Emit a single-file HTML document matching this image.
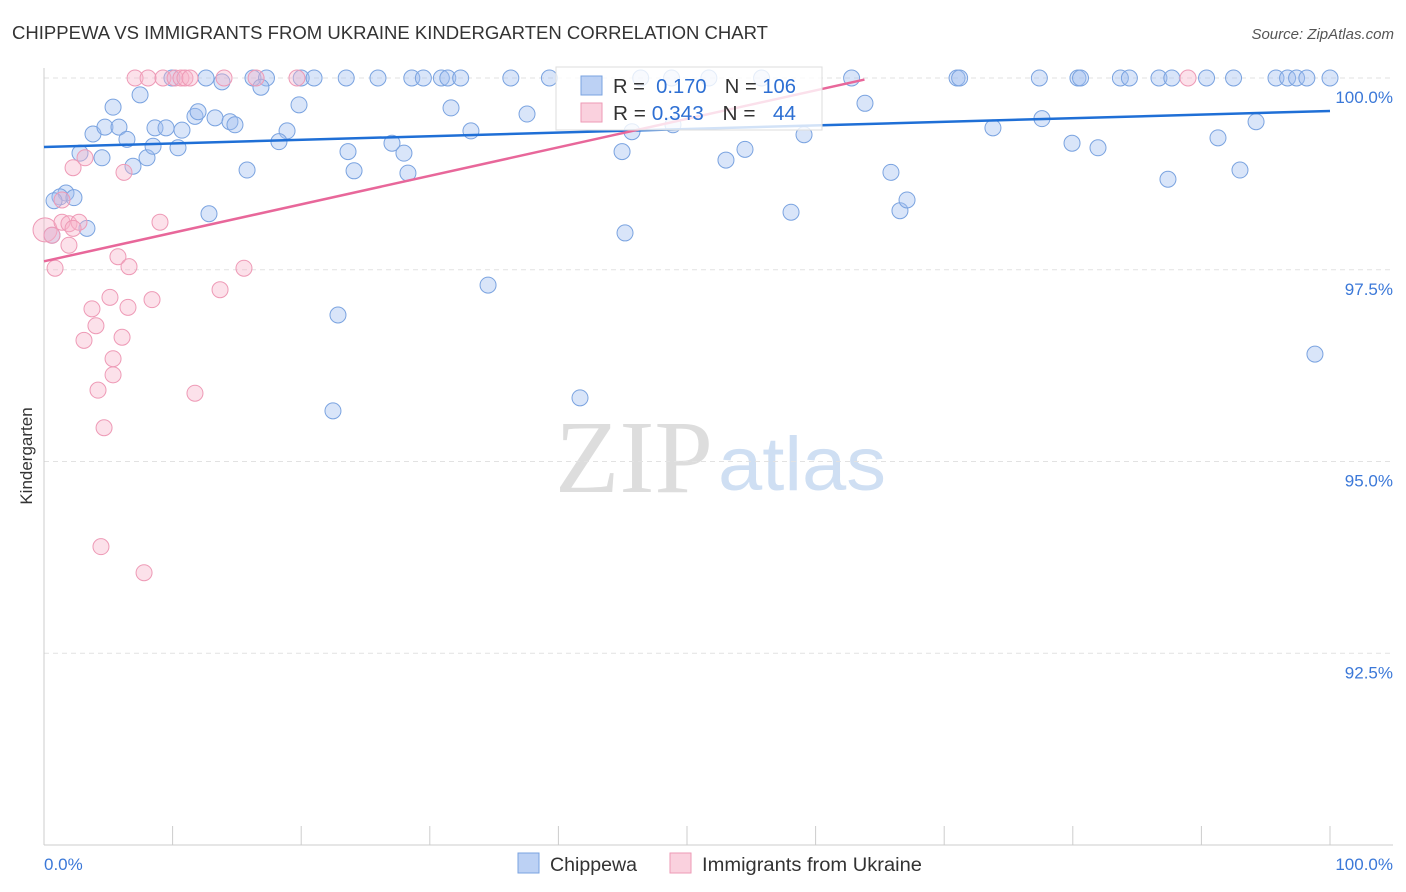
<!DOCTYPE html>
<html><head><meta charset="utf-8"><style>
body{margin:0;background:#fff;font-family:"Liberation Sans",sans-serif;}
#wrap{position:relative;width:1406px;height:892px;overflow:hidden;}
</style></head><body>
<div id="wrap">
<svg id="chart" width="1406" height="892">
<text x="12" y="39" font-size="18" fill="#333" textLength="756" lengthAdjust="spacingAndGlyphs">CHIPPEWA VS IMMIGRANTS FROM UKRAINE KINDERGARTEN CORRELATION CHART</text>
<text x="1394" y="39" font-size="15" fill="#555" text-anchor="end" font-style="italic">Source: ZipAtlas.com</text>
<text x="32" y="456" font-size="17" fill="#333" text-anchor="middle" transform="rotate(-90 32 456)">Kindergarten</text>
<g>
<text x="634" y="492" font-size="104" font-family="Liberation Serif,serif" fill="#ddd" text-anchor="middle" textLength="158" lengthAdjust="spacingAndGlyphs">ZIP</text>
<text x="802" y="490" font-size="76" fill="#cfdff3" text-anchor="middle" textLength="168" lengthAdjust="spacingAndGlyphs">atlas</text>
</g>
<g id="grid"></g><g id="axes"></g><g id="pts"></g><g id="lines"></g>
<g>
<rect x="556" y="67" width="266" height="63" fill="rgba(255,255,255,0.8)" stroke="#ddd"/>
<rect x="581" y="76" width="21" height="19" fill="rgba(160,190,240,0.7)" stroke="#7aa3e0"/>
<rect x="581" y="103" width="21" height="19" fill="rgba(248,190,208,0.7)" stroke="#ee9ab6"/>
<text x="613" y="93" font-size="20" fill="#333" textLength="183" lengthAdjust="spacingAndGlyphs">R = <tspan fill="#2d6fd3">&#160;0.170</tspan><tspan dx="18">N = </tspan><tspan fill="#2d6fd3">106</tspan></text>
<text x="613" y="120" font-size="20" fill="#333" textLength="183" lengthAdjust="spacingAndGlyphs">R = <tspan fill="#2d6fd3">0.343</tspan><tspan dx="18">N = </tspan><tspan fill="#2d6fd3">&#160;&#160;44</tspan></text>
</g>
<g>
<rect x="518" y="853" width="21" height="20" fill="rgba(160,190,240,0.7)" stroke="#7aa3e0"/>
<text x="550" y="871" font-size="19" fill="#333" textLength="87" lengthAdjust="spacingAndGlyphs">Chippewa</text>
<rect x="670" y="853" width="21" height="20" fill="rgba(248,190,208,0.7)" stroke="#ee9ab6"/>
<text x="702" y="871" font-size="19" fill="#333" textLength="220" lengthAdjust="spacingAndGlyphs">Immigrants from Ukraine</text>
</g>
</svg>
</div>
<script>
const yTicks=[100,97.5,95,92.5];
const yTickLabels=["100.0%","97.5%","95.0%","92.5%"];
const xTickLabels=["0.0%","100.0%"];
const blueX=[9.95,12.6,16.25,17.3,20.0,21.0,23.5,25.97,28.6,29.5,30.9,31.4,32.4,36.3,39.3,46.4,48.8,51.7,55.8,62.8,71.0,71.2,77.4,80.4,80.6,83.7,84.4,86.7,87.7,90.4,92.5,95.8,96.7,97.4,98.2,100,
5.37,7.47,3.81,4.74,5.83,6.45,2.80,4.51,6.92,8.01,8.63,9.49,8.48,10.73,10.42,11.74,11.98,13.30,14.46,14.85,13.84,16.87,18.90,18.27,19.83,15.79,12.83,1.71,1.24,2.33,0.78,3.34,0.62,23.64,24.11,27.06,27.99,28.30,31.65,33.20,37.56,34.53,22.86,22.47,41.68,45.18,44.95,45.72,48.91,53.03,54.51,58.09,59.10,63.84,65.86,66.56,67.11,73.79,77.60,79.94,81.96,87.40,91.29,93.00,94.25,98.83];
const blueY=[100,100,100,100,100,100,100,100,100,100,100,100,100,100,100,100,100,100,100,100,100,100,100,100,100,100,100,100,100,100,100,100,100,100,100,100,
99.62,99.78,99.27,99.36,99.36,99.20,99.02,98.96,98.85,98.96,99.35,99.35,99.11,99.32,99.09,99.50,99.56,99.48,99.43,99.39,99.95,99.88,99.31,99.17,99.65,98.80,98.23,98.50,98.45,98.44,98.40,98.04,97.95,99.04,98.79,99.15,99.02,98.76,99.61,99.31,99.53,97.30,96.91,95.66,95.83,97.98,99.04,99.30,99.39,98.93,99.07,98.25,99.26,99.67,98.77,98.27,98.41,99.35,99.47,99.15,99.09,98.68,99.22,98.80,99.43,96.40];
const pinkX=[7.08,8.09,9.25,10.19,10.65,10.96,11.35,14.0,16.49,19.67,88.96,0.08,0.62,0.86,1.40,2.26,3.19,1.40,1.94,2.72,2.26,1.94,6.22,9.02,5.75,6.61,15.55,13.69,5.13,8.40,3.73,6.53,4.04,3.11,6.07,5.37,5.37,4.20,11.74,4.67,4.43,7.78];
const pinkY=[100,100,100,100,100,100,100,100,100,100,100,98.02,97.95,97.52,98.41,98.83,98.96,98.12,98.10,98.12,98.04,97.82,98.77,98.12,97.67,97.54,97.52,97.24,97.14,97.11,96.99,97.01,96.77,96.58,96.62,96.34,96.13,95.93,95.89,95.44,93.89,93.55];
const blueTrendX=[0,100], blueTrendY=[99.1,99.57];
const pinkTrendX=[0,63.8], pinkTrendY=[97.61,99.98];

const NS="http://www.w3.org/2000/svg";
const X0=44,X1=1330,Y0=78,Y1=845,VMAX=100,VMIN=90;
const sx=v=>X0+(X1-X0)*v/100;
const sy=v=>Y0+(Y1-Y0)*(VMAX-v)/(VMAX-VMIN);
function mk(tag,at,parent){const e=document.createElementNS(NS,tag);for(const k in at)e.setAttribute(k,at[k]);document.getElementById(parent).appendChild(e);return e;}
yTicks.forEach((t,i)=>{
 const g=mk('line',{x1:X0,x2:1393,y1:sy(t),y2:sy(t),stroke:'#e2e2e2','stroke-dasharray':'5,4'},'grid');
 
 
 const l=mk('text',{x:1393,y:sy(t)+25,'font-size':17,fill:'#3b78d8','text-anchor':'end'},'axes');
 l.textContent=yTickLabels[i];
 
 
});
const ax=mk('line',{x1:X0,x2:X0,y1:68,y2:Y1,stroke:'#ccc'},'axes');


const bx=mk('line',{x1:X0,x2:1393,y1:Y1,y2:Y1,stroke:'#ccc'},'axes');


for(let i=0;i<=10;i++){const t=mk('line',{x1:sx(i*10),x2:sx(i*10),y1:826,y2:Y1,stroke:'#ccc'},'axes');
 
 }
[[0,'start',X0],[1,'end',1393]].forEach(([i,a,x])=>{const l=mk('text',{x:x,y:870,'font-size':17,fill:'#3b78d8','text-anchor':a},'axes');l.textContent=xTickLabels[i];
 
 });
blueX.forEach((v,i)=>{const c=mk('circle',{cx:sx(v),cy:sy(blueY[i]),r:8,fill:'rgba(160,190,240,0.4)',stroke:'#7aa3e0','stroke-width':1},'pts');
 
 });
pinkX.forEach((v,i)=>{const c=mk('circle',{cx:sx(v),cy:sy(pinkY[i]),r:i==11?12:8,fill:'rgba(248,180,202,0.4)',stroke:'#ee9ab6','stroke-width':1},'pts');
 
 });
const bl=mk('line',{x1:sx(blueTrendX[0]),y1:sy(blueTrendY[0]),x2:sx(blueTrendX[1]),y2:sy(blueTrendY[1]),stroke:'#1f6fd6','stroke-width':2.5},'lines');


const pl=mk('line',{x1:sx(pinkTrendX[0]),y1:sy(pinkTrendY[0]),x2:sx(pinkTrendX[1]),y2:sy(pinkTrendY[1]),stroke:'#e8679a','stroke-width':2.5},'lines');


</script>
</body></html>
